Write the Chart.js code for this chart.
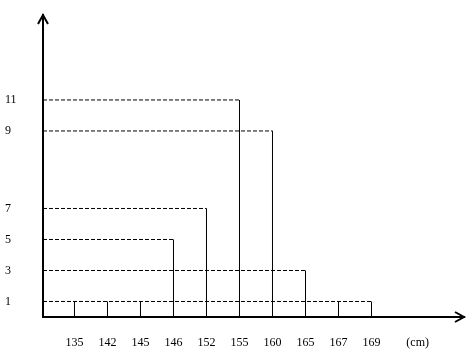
<!DOCTYPE html>
<html lang="en">
<head>
  <meta charset="UTF-8">
  <title>Estaturas</title>
  <style>
    body { margin: 0; background: #fff; }
    #box { position: relative; width: 476px; height: 356px; }
  </style>
</head>
<body>
<script src="https://cdn.jsdelivr.net/npm/chart.js"></script>

<div id="box">
  <canvas id="stemChart"></canvas>
</div>

<script>
  // heights (cm) and how many of each
  const categories = ['135', '142', '145', '146', '152', '155', '160', '165', '167', '169'];
  const counts = [1, 1, 1, 5, 7, 11, 9, 3, 1, 1];
  // y axis of the picture is not to scale: tick labels from bottom to top, one per step
  const yLevels = ['', '1', '', '3', '', '5', '', '7', '', '', '', '', '9', '', '11'];
  const xUnit = '(cm)';

  const xMin = -0.9545;
  const xMax = 11.803;

  let stems = [];
  let leaders = [];
  counts.forEach(function (v, i) {
    let lvl = yLevels.indexOf(String(v));
    stems.push({x: i, y: 0}, {x: i, y: lvl}, {x: i, y: null});
    leaders.push({x: xMin, y: lvl}, {x: i, y: lvl}, {x: i, y: null});
  });

  const serif = {family: '"Liberation Serif", "Times New Roman", serif', size: 12};

  // arrow heads on both axes
  const arrows = {
    id: 'arrows',
    afterDraw(chart) {
      const a = chart.chartArea;
      const ctx = chart.ctx;
      ctx.save();
      ctx.strokeStyle = '#000';
      ctx.lineWidth = 2;
      ctx.beginPath();
      ctx.moveTo(a.left - 5, a.top + 9);
      ctx.lineTo(a.left, a.top);
      ctx.lineTo(a.left + 5, a.top + 9);
      ctx.moveTo(a.right - 9, a.bottom - 5);
      ctx.lineTo(a.right, a.bottom);
      ctx.lineTo(a.right - 9, a.bottom + 5);
      ctx.stroke();
      ctx.restore();
    }
  };

  const config = {
    type: 'line',
    data: {
      datasets: [{
        label: 'stems',
        data: stems,
        borderColor: '#000',
        borderWidth: 1,
        pointRadius: 0,
        spanGaps: false
      }, {
        label: 'leaders',
        data: leaders,
        borderColor: '#000',
        borderWidth: 1,
        borderDash: [4, 2],
        pointRadius: 0,
        spanGaps: false
      }]
    },
    options: {
      responsive: true,
      maintainAspectRatio: false,
      animation: false,
      layout: {padding: {left: 5, top: 15, right: 12, bottom: 0}},
      plugins: {legend: {display: false}, tooltip: {enabled: false}},
      scales: {
        x: {
          type: 'linear',
          min: xMin,
          max: xMax,
          grid: {display: false, drawTicks: false},
          border: {display: true, color: '#000', width: 2},
          afterBuildTicks: function (scale) {
            let t = categories.map(function (c, i) { return {value: i}; });
            t.push({value: categories.length + 0.4});
            scale.ticks = t;
          },
          afterFit: function (scale) { scale.height = 39; },
          ticks: {
            color: '#000',
            font: serif,
            padding: 19,
            maxRotation: 0,
            autoSkip: false,
            callback: function (value) {
              return Number.isInteger(value) ? categories[value] : xUnit;
            }
          }
        },
        y: {
          type: 'linear',
          min: 0,
          max: 19.48,
          grid: {display: false, drawTicks: false},
          border: {display: true, color: '#000', width: 2},
          afterBuildTicks: function (scale) {
            let t = [];
            yLevels.forEach(function (l, i) { if (l !== '') t.push({value: i}); });
            scale.ticks = t;
          },
          afterFit: function (scale) { scale.width = 38; },
          ticks: {
            color: '#000',
            font: serif,
            crossAlign: 'far',
            autoSkip: false,
            callback: function (value) { return yLevels[value]; }
          }
        }
      }
    },
    plugins: [arrows]
  };

  let stemChart = new Chart(document.getElementById('stemChart'), config);
</script>
</body>
</html>
